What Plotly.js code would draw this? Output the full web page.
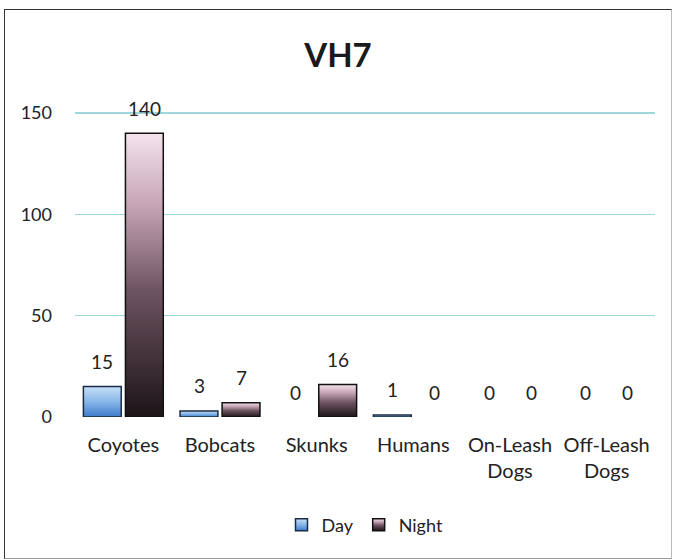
<!DOCTYPE html>
<html>
<head>
<meta charset="utf-8">
<script src="https://cdn.plot.ly/plotly-3.0.1.min.js"></script>
<style>
html,body{margin:0;padding:0;background:#fff;}
#wrap{position:relative;width:676px;height:560px;}
#chart{width:676px;height:560px;}
#frame{position:absolute;left:4px;top:9px;width:666px;height:548px;border:1.5px solid #333;border-right-color:#bbb;border-bottom-color:#999;pointer-events:none;}
</style>
</head>
<body>
<div id="wrap"><div id="chart"></div><div id="frame"></div></div>
<script>
const categories = ["Coyotes", "Bobcats", "Skunks", "Humans", "On-Leash<br>Dogs", "Off-Leash<br>Dogs"];
const dayValues = [15, 3, 0, 1, 0, 0];
const nightValues = [140, 7, 16, 0, 0, 0];
const seriesNames = ["Day", "Night"];
const yTicks = [0, 50, 100, 150];
const titleText = "VH7";

const FONT = "Lato, 'Liberation Sans', sans-serif";

const traces = [
  {
    type: "bar", name: seriesNames[0], x: categories, y: dayValues,
    marker: {color: "#7eb0e4", line: {color: "#1c2b45", width: dayValues.map(v => v > 0 ? 1.5 : 0)}},
    hoverinfo: "skip"
  },
  {
    type: "bar", name: seriesNames[1], x: categories, y: nightValues,
    marker: {color: "#5e4a55", line: {color: "#111", width: nightValues.map(v => v > 0 ? 1.5 : 0)}},
    hoverinfo: "skip"
  }
];

const annotations = [];
[dayValues, nightValues].forEach((vals, si) => {
  vals.forEach((v, i) => {
    annotations.push({
      x: categories[i], y: v, xref: "x", yref: "y",
      text: String(v), showarrow: false,
      xshift: si === 0 ? -21 : 21, yshift: 25, yanchor: "middle",
      font: {family: FONT, size: 19, color: "#222"}
    });
  });
});

const layout = {
  width: 676, height: 560,
  margin: {l: 75, r: 21, t: 111, b: 143},
  paper_bgcolor: "#fff", plot_bgcolor: "#fff",
  title: {text: "<b>" + titleText + "</b>", x: 0.5, xref: "container", xanchor: "center",
          y: 1 - 55/560, yref: "container", yanchor: "middle",
          font: {family: FONT, size: 33, color: "#1a1a1a"}},
  barmode: "group", bargap: 0.13, bargroupgap: 0.1,
  showlegend: true,
  legend: {orientation: "h", x: 0.5, xanchor: "center", y: -0.353, yanchor: "middle",
           font: {family: FONT, size: 18, color: "#222"}, itemwidth: 30, traceorder: "normal"},
  xaxis: {type: "category", showgrid: false, zeroline: false, showline: false, ticks: "",
          tickfont: {family: FONT, size: 20, color: "#222"}, ticklabelstandoff: 14},
  yaxis: {range: [0, 151], tickvals: yTicks, showgrid: true, gridcolor: "#9fd8da", gridwidth: 1.5,
          zeroline: true, zerolinecolor: "#ffffff", zerolinewidth: 2, showline: false, ticks: "",
          tickfont: {family: FONT, size: 18, color: "#222"}, ticklabelstandoff: 22},
  annotations: annotations
};

function addGradients(gd) {
  const svg = gd.querySelector("svg.main-svg");
  if (!svg) return;
  const ns = "http://www.w3.org/2000/svg";
  let defs = svg.querySelector("defs");
  if (!defs) { defs = document.createElementNS(ns, "defs"); svg.insertBefore(defs, svg.firstChild); }
  const grads = [
    {id: "gDay", stops: [[0, "#c6e0f7"], [0.5, "#86b6e8"], [1, "#3f7ccc"]]},
    {id: "gNight", stops: [[0, "#f3e3ec"], [0.25, "#c7a5b6"], [0.55, "#6e5461"], [1, "#1c1418"]]}
  ];
  grads.forEach(g => {
    const lg = document.createElementNS(ns, "linearGradient");
    lg.setAttribute("id", g.id);
    lg.setAttribute("x1", "0"); lg.setAttribute("y1", "0");
    lg.setAttribute("x2", "0"); lg.setAttribute("y2", "1");
    g.stops.forEach(s => {
      const st = document.createElementNS(ns, "stop");
      st.setAttribute("offset", s[0]);
      st.setAttribute("stop-color", s[1]);
      lg.appendChild(st);
    });
    defs.appendChild(lg);
  });
  const traceGroups = gd.querySelectorAll(".barlayer .trace");
  traceGroups.forEach((tg, i) => {
    tg.querySelectorAll("path").forEach(p => { p.style.fill = "url(#" + grads[i].id + ")"; });
  });
  const legendTraces = gd.querySelectorAll(".legend .traces");
  legendTraces.forEach((lt, i) => {
    lt.querySelectorAll(".legendpoints path").forEach(p => { p.style.fill = "url(#" + grads[i].id + ")"; });
  });
}

Plotly.newPlot("chart", traces, layout, {displayModeBar: false, staticPlot: true}).then(addGradients);
</script>
</body>
</html>
